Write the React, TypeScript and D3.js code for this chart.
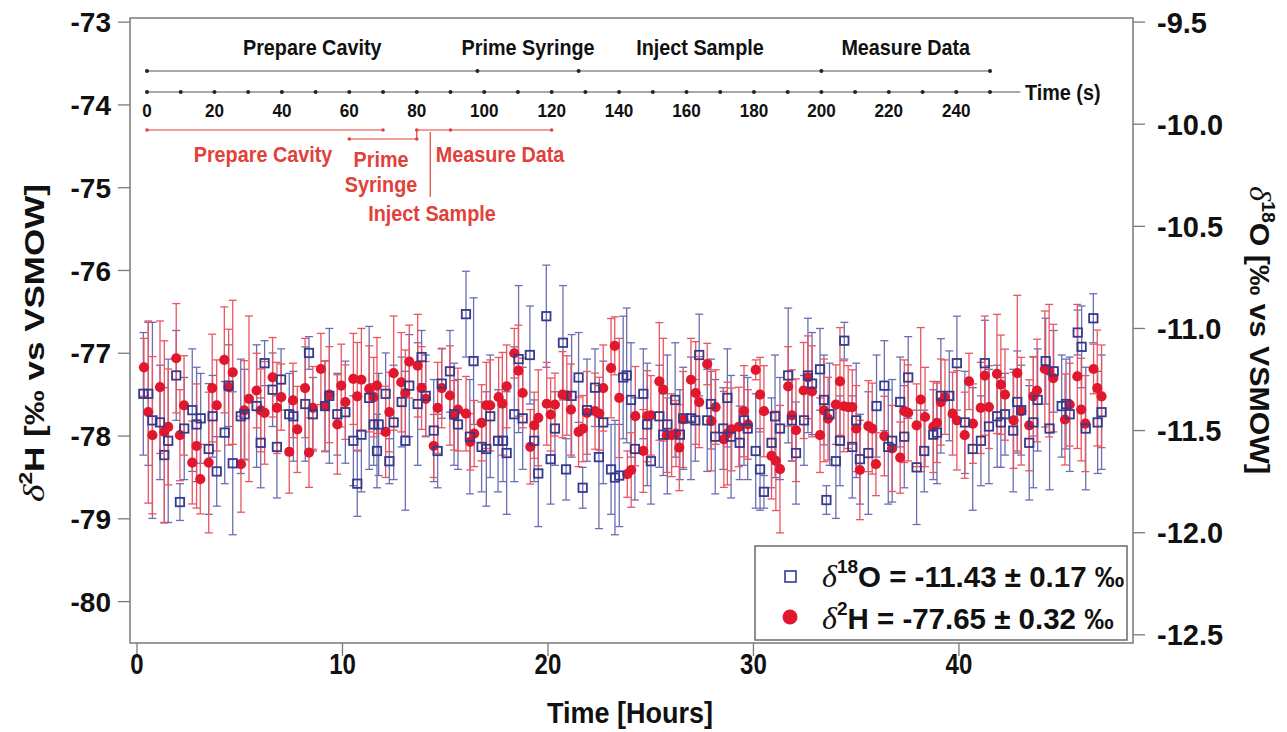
import React from 'react';
import * as d3 from 'd3';

// ---------- data: δ2H (left axis), red circles ----------
const hoursH = [0.34,0.55,0.75,1.12,1.33,1.52,1.91,2.09,2.29,2.69,2.90,3.08,3.49,3.66,3.88,4.25,4.46,4.66,5.06,5.22,5.45,5.82,6.02,6.21,6.60,6.81,7.02,7.41,7.59,7.80,8.18,8.37,8.56,8.95,9.15,9.36,9.75,9.94,10.14,10.53,10.72,10.92,11.30,11.52,11.68,
12.10,12.28,12.49,12.86,13.06,13.25,13.66,13.85,14.05,14.44,14.63,14.83,15.23,15.43,15.62,16.01,16.22,16.41,16.77,17.00,17.19,17.60,17.78,17.99,18.36,18.56,18.77,19.14,19.33,19.53,19.94,20.13,20.34,20.71,20.92,21.12,21.49,21.70,21.90,22.29,22.50,22.69,23.07,23.25,23.47,
23.86,24.05,24.25,24.64,24.83,25.01,25.42,25.61,25.78,26.02,26.23,26.39,26.58,26.96,27.19,27.36,27.75,27.95,28.16,28.56,28.73,28.94,29.29,29.54,29.73,30.11,30.32,30.51,30.88,31.09,31.29,31.69,31.87,32.07,32.44,32.65,32.85,33.24,33.43,33.63,34.01,34.21,34.40,34.61,34.81,35.00,35.18,35.59,
35.78,35.96,36.37,36.75,37.14,37.34,37.53,37.94,38.14,38.35,38.75,38.93,39.12,39.32,39.69,39.90,40.28,40.49,40.68,41.06,41.26,41.46,41.85,42.04,42.24,42.66,42.84,43.03,43.42,43.62,43.80,44.18,44.39,44.59,45.16,45.39,45.76,45.95,46.15,46.55,46.73,46.94];
const dH = [-77.17,-77.71,-77.99,-77.41,-77.95,-77.89,-77.06,-77.99,-77.63,-78.32,-78.12,-78.52,-78.32,-77.42,-77.63,-77.08,-77.41,-77.23,-78.34,-77.69,-77.55,-77.45,-77.69,-77.72,-77.29,-77.66,-77.53,-78.19,-77.57,-77.92,-77.42,-78.20,-77.66,-77.19,-77.64,-77.50,-77.86,-77.39,-77.59,-77.31,-77.52,-77.32,-77.43,-77.53,-77.39,
-77.95,-77.71,-77.24,-77.35,-77.48,-77.10,-77.15,-77.42,-77.55,-78.12,-77.66,-77.42,-77.51,-77.75,-77.68,-77.73,-78.07,-77.97,-77.84,-77.63,-77.63,-77.53,-77.61,-77.40,-77.00,-77.21,-77.48,-78.13,-77.87,-77.78,-77.61,-77.74,-77.62,-77.50,-77.51,-77.68,-77.95,-77.91,-77.72,-77.70,-77.73,-77.42,-77.18,-76.91,-77.54,
-78.46,-78.41,-77.76,-78.18,-77.76,-77.75,-77.34,-77.44,-77.99,-77.99,-77.97,-78.14,-77.80,-77.32,-77.48,-77.59,-77.13,-77.82,-77.65,-78.04,-77.97,-77.92,-77.89,-77.70,-77.86,-77.20,-77.50,-77.70,-78.24,-78.30,-78.40,-77.40,-77.75,-77.93,-77.45,-77.29,-77.46,-77.99,-77.69,-77.79,-77.62,-77.34,-77.64,-77.65,-77.65,-77.91,-78.41,-77.88,
-77.91,-78.34,-78.00,-78.15,-78.26,-77.70,-77.72,-77.87,-77.56,-77.77,-77.89,-77.84,-77.59,-77.53,-77.73,-77.81,-77.99,-77.34,-77.85,-77.66,-77.27,-77.65,-77.25,-77.38,-77.50,-77.81,-77.24,-77.70,-77.87,-77.52,-77.45,-77.19,-77.21,-77.30,-77.80,-77.62,-77.28,-77.68,-77.85,-77.19,-77.42,-77.52];
const dHErr = [0.35,1.10,0.95,0.80,1.10,0.70,0.66,0.55,0.60,0.50,0.75,0.42,0.85,0.65,0.55,0.64,0.70,0.87,0.58,0.60,1.00,0.45,0.50,0.62,0.48,0.55,0.40,0.50,0.45,0.52,0.60,0.42,0.50,0.43,0.55,0.58,0.60,0.50,0.45,0.55,0.65,0.62,0.52,0.48,0.58,
0.55,0.48,0.69,0.60,0.52,0.44,0.62,0.50,0.45,0.38,0.55,0.48,0.60,0.42,0.50,0.45,0.34,0.40,0.46,0.52,0.55,0.48,0.62,0.50,0.30,0.55,0.42,0.45,0.40,0.58,0.50,0.44,0.38,0.52,0.48,0.55,0.42,0.40,0.50,0.46,0.44,0.52,0.60,0.35,0.72,
0.28,0.45,0.60,0.50,0.55,0.48,0.71,0.62,0.45,0.50,0.40,0.52,0.58,0.50,0.62,0.55,0.25,0.60,0.45,0.58,0.62,0.50,0.48,0.55,0.42,0.12,0.45,0.55,0.52,0.60,0.77,0.48,0.55,0.62,0.58,0.50,0.55,0.45,0.62,0.50,0.48,0.65,0.55,0.50,0.45,0.52,0.60,0.55,
0.55,0.38,0.48,0.52,0.43,0.62,0.58,0.50,0.87,0.60,0.55,0.48,0.52,0.45,0.50,0.60,0.52,0.34,0.48,0.55,0.72,0.50,0.72,0.60,0.55,0.58,0.94,0.65,0.55,0.48,0.62,0.70,0.80,0.65,0.55,0.50,0.87,0.62,0.58,0.30,0.70,0.62];

// ---------- data: δ18O (right axis), blue squares ----------
const hoursO = [0.31,0.55,0.75,1.12,1.33,1.52,1.91,2.09,2.30,2.69,2.90,3.10,3.49,3.68,3.88,4.27,4.46,4.66,5.05,5.24,5.82,6.02,6.21,6.60,6.81,7.01,7.41,7.61,8.19,8.37,8.56,9.15,9.36,9.75,10.14,10.53,10.72,10.92,11.30,11.52,11.68,
11.76,12.10,12.28,12.49,12.88,13.06,13.25,13.66,13.85,14.05,14.44,14.63,14.83,15.23,15.43,15.62,16.01,16.20,16.38,16.77,17.00,17.19,17.57,17.81,17.99,18.36,18.57,18.77,19.12,19.33,19.53,19.92,20.13,20.34,20.73,20.88,21.15,21.49,21.69,21.90,22.29,22.48,22.69,23.07,23.26,23.47,23.66,
23.83,24.04,24.23,24.64,24.83,25.01,25.42,25.61,25.81,26.19,26.42,26.58,26.96,27.17,27.36,27.75,27.93,28.14,28.53,28.73,28.91,29.33,29.54,29.72,30.11,30.32,30.51,30.88,31.05,31.29,31.69,31.87,32.07,32.46,32.65,32.85,33.24,33.43,33.55,33.70,34.01,34.21,34.42,34.81,35.00,35.18,35.59,
35.99,36.37,36.56,36.75,37.14,37.34,37.53,37.94,38.31,38.75,38.93,39.12,39.53,39.90,40.29,40.67,41.07,41.26,41.46,41.86,42.04,42.24,42.64,42.84,43.03,43.42,43.62,43.83,44.22,44.41,44.61,45.00,45.21,45.39,45.78,45.97,46.17,46.54,46.75,46.94];
const dO = [-11.32,-11.32,-11.45,-11.46,-11.62,-11.55,-11.23,-11.85,-11.49,-11.40,-11.47,-11.44,-11.59,-11.43,-11.70,-11.51,-11.28,-11.66,-11.43,-11.42,-11.38,-11.56,-11.17,-11.30,-11.58,-11.25,-11.42,-11.43,-11.37,-11.12,-11.42,-11.38,-11.33,-11.42,-11.41,-11.55,-11.76,-11.52,-11.34,-11.47,-11.60,
-11.47,-11.32,-11.65,-11.46,-11.36,-11.55,-11.28,-11.37,-11.14,-11.33,-11.50,-11.60,-11.27,-11.21,-11.42,-11.47,-10.93,-11.53,-11.16,-11.58,-11.59,-11.43,-11.55,-11.55,-11.61,-11.42,-11.15,-11.44,-11.13,-11.55,-11.71,-10.94,-11.64,-11.49,-11.07,-11.69,-11.33,-11.24,-11.78,-11.40,-11.29,-11.63,-11.46,-11.69,-11.73,-11.72,-11.24,
-11.23,-11.35,-11.59,-11.32,-11.47,-11.65,-11.43,-11.52,-11.47,-11.35,-11.52,-11.44,-11.44,-11.45,-11.13,-11.45,-11.37,-11.53,-11.49,-11.34,-11.53,-11.56,-11.45,-11.49,-11.60,-11.69,-11.80,-11.56,-11.43,-11.49,-11.23,-11.45,-11.61,-11.45,-11.23,-11.27,-11.20,-11.35,-11.84,-11.42,-11.65,-11.55,-11.06,-11.58,-11.45,-11.64,-11.61,
-11.38,-11.28,-11.58,-11.55,-11.36,-11.53,-11.24,-11.68,-11.60,-11.52,-11.51,-11.33,-11.33,-11.17,-11.46,-11.59,-11.55,-11.17,-11.48,-11.43,-11.46,-11.42,-11.50,-11.36,-11.40,-11.56,-11.46,-11.35,-11.16,-11.49,-11.21,-11.38,-11.37,-11.42,-11.02,-11.09,-11.49,-10.95,-11.46,-11.41];
const dOErr = [0.30,0.35,0.48,0.28,0.33,0.40,0.22,0.09,0.25,0.30,0.28,0.22,0.32,0.20,0.17,0.25,0.20,0.35,0.28,0.22,0.30,0.22,0.11,0.18,0.25,0.15,0.20,0.22,0.28,0.08,0.18,0.22,0.33,0.20,0.25,0.22,0.16,0.28,0.35,0.20,0.18,
0.25,0.20,0.11,0.28,0.22,0.34,0.25,0.30,0.13,0.20,0.25,0.18,0.17,0.20,0.25,0.22,0.21,0.28,0.31,0.22,0.28,0.30,0.25,0.20,0.30,0.33,0.36,0.25,0.24,0.20,0.26,0.25,0.22,0.18,0.28,0.15,0.30,0.22,0.10,0.25,0.19,0.35,0.30,0.22,0.28,0.25,0.30,
0.33,0.28,0.25,0.22,0.30,0.21,0.25,0.20,0.34,0.28,0.22,0.25,0.30,0.20,0.20,0.25,0.22,0.28,0.20,0.24,0.30,0.18,0.22,0.25,0.28,0.20,0.08,0.22,0.30,0.25,0.33,0.20,0.25,0.22,0.28,0.25,0.20,0.22,0.07,0.25,0.28,0.22,0.09,0.25,0.28,0.22,0.30,
0.25,0.22,0.28,0.30,0.22,0.25,0.20,0.28,0.20,0.22,0.25,0.28,0.22,0.23,0.25,0.30,0.22,0.21,0.28,0.25,0.22,0.20,0.30,0.25,0.22,0.28,0.32,0.25,0.21,0.30,0.20,0.25,0.22,0.28,0.11,0.20,0.30,0.12,0.25,0.28];

// ---------- axes ----------
const leftTicks = [-73, -74, -75, -76, -77, -78, -79, -80];
const rightTicks = [-9.5, -10.0, -10.5, -11.0, -11.5, -12.0, -12.5];
const xTicks = [0, 10, 20, 30, 40];

// ---------- inset timeline (seconds) ----------
const cycleBounds = [0, 98, 128, 200, 250];
const cycleNames = ['Prepare Cavity', 'Prime Syringe', 'Inject Sample', 'Measure Data'];
const secDots = [0,10,20,30,40,50,60,70,80,90,100,110,120,130,140,150,160,170,180,190,200,210,220,230,240,250];
const secLabels = [0,20,40,60,80,100,120,140,160,180,200,220,240];
const redRow1 = [[0, 70], [80, 120]];
const redRow1Dots = [0, 70, 80, 90, 120];
const redRow2 = [60, 80];
const injectSec = 84;

const RED = '#e1182d';
const RED_BAR = '#ea5560';
const BLUE = '#363a8c';
const BLUE_BAR = '#6b6fb2';
const TXTRED = '#e2413a';
const SANS = "'Liberation Sans',Arial,sans-serif";
const SERIF = "'Liberation Serif','Times New Roman',serif";

// condensed-looking text: taller glyphs squeezed horizontally
function CText({ x, y, size, sx = 0.86, anchor = 'middle', fill = '#111', children }: any) {
  return (
    <text transform={`translate(${x},${y}) scale(${sx},1)`} textAnchor={anchor} fontFamily={SANS}
      fontWeight="bold" fontSize={size} fill={fill}>{children}</text>
  );
}

export default function App() {
  const L = 130, R = 1133, T = 18, B = 643;
  const x = d3.scaleLinear().domain([-0.34, 48.47]).range([L, R]);
  const yL = d3.scaleLinear().domain([-72.95, -80.5]).range([T, B]);
  const yR = d3.scaleLinear().domain([-9.48, -12.54]).range([T, B]);
  const s = d3.scaleLinear().domain([0, 250]).range([147, 990]);

  const cap = 4;
  const red = hoursH.map((h, i) => ({ h, v: dH[i], e: dHErr[i] }));
  const blue = hoursO.map((h, i) => ({ h, v: dO[i], e: dOErr[i] }));
  const fmtR = (t: number) => d3.format('.1f')(t).replace('\u2212', '-');

  const timeline1Y = 71, timeline2Y = 92, redY1 = 130, redY2 = 139;

  return (
    <svg width={1287} height={732} style={{ position: 'absolute', left: 0, top: 0, background: '#fff' }}>
      <rect x={0} y={0} width={1287} height={732} fill="#fff" />
      {/* error bars */}
      <g stroke={BLUE_BAR} strokeWidth={1.3} fill="none">
        {blue.map((d, i) => {
          const cx = x(d.h), y1 = yR(d.v + d.e), y2 = yR(d.v - d.e);
          return (
            <g key={i}>
              <line x1={cx} x2={cx} y1={y1} y2={y2} />
              <line x1={cx - cap} x2={cx + cap} y1={y1} y2={y1} />
              <line x1={cx - cap} x2={cx + cap} y1={y2} y2={y2} />
            </g>
          );
        })}
      </g>
      <g stroke={RED_BAR} strokeWidth={1.3} fill="none">
        {red.map((d, i) => {
          const cx = x(d.h), y1 = yL(d.v + d.e), y2 = yL(d.v - d.e);
          return (
            <g key={i}>
              <line x1={cx} x2={cx} y1={y1} y2={y2} />
              <line x1={cx - cap} x2={cx + cap} y1={y1} y2={y1} />
              <line x1={cx - cap} x2={cx + cap} y1={y2} y2={y2} />
            </g>
          );
        })}
      </g>
      <g fill={RED}>
        {red.map((d, i) => <circle key={i} cx={x(d.h)} cy={yL(d.v)} r={5.1} />)}
      </g>
      <g fill="none" stroke={BLUE} strokeWidth={1.8}>
        {blue.map((d, i) => <rect key={i} x={x(d.h) - 4.2} y={yR(d.v) - 4.2} width={8.4} height={8.4} />)}
      </g>

      {/* frame */}
      <rect x={L} y={T} width={R - L} height={B - T} fill="none" stroke="#7a7a7a" strokeWidth={1.5} />
      <g stroke="#7a7a7a" strokeWidth={1.3}>
        {leftTicks.map(t => <line key={t} x1={L - 12} x2={L} y1={yL(t)} y2={yL(t)} />)}
        {rightTicks.map(t => <line key={t} x1={R} x2={R + 12} y1={yR(t)} y2={yR(t)} />)}
        {xTicks.map(t => <line key={t} x1={x(t)} x2={x(t)} y1={B} y2={B + 13} />)}
      </g>
      <g fontFamily={SANS} fontWeight="bold" fill="#111">
        {leftTicks.map(t => (
          <text key={t} x={111} y={yL(t)} dy="0.36em" textAnchor="end" fontSize={28}>{String(t)}</text>
        ))}
        {rightTicks.map(t => (
          <text key={t} x={1157} y={yR(t)} dy="0.36em" textAnchor="start" fontSize={29}>{fmtR(t)}</text>
        ))}
      </g>
      {xTicks.map(t => (
        <CText key={t} x={x(t)} y={674} size={30} sx={0.8}>{t}</CText>
      ))}
      <CText x={630} y={723} size={30} sx={0.9}>Time [Hours]</CText>

      {/* left title */}
      <text transform="translate(44,343) rotate(-90)" textAnchor="middle" fontFamily={SANS} fontWeight="bold"
        fontSize={28} fill="#111" textLength={318} lengthAdjust="spacingAndGlyphs">
        <tspan fontFamily={SERIF} fontStyle="italic" fontWeight="normal" fontSize={30}>δ</tspan>
        <tspan fontSize={18} dy={-12}>2</tspan>
        <tspan dy={12}>H [‰ vs VSMOW]</tspan>
      </text>
      {/* right title */}
      <text transform="translate(1250,330) rotate(90)" textAnchor="middle" fontFamily={SANS} fontWeight="bold"
        fontSize={28} fill="#111" textLength={288} lengthAdjust="spacingAndGlyphs">
        <tspan fontFamily={SERIF} fontStyle="italic" fontWeight="normal" fontSize={30}>δ</tspan>
        <tspan fontSize={18} dy={-12}>18</tspan>
        <tspan dy={12}>O [‰ vs VSMOW]</tspan>
      </text>

      {/* legend */}
      <rect x={755} y={546} width={372} height={94} fill="#fff" stroke="#6a6a6a" strokeWidth={1.5} />
      <rect x={785} y={571} width={11} height={11} fill="none" stroke={BLUE} strokeWidth={1.6} />
      <circle cx={790} cy={617} r={7.5} fill={RED} />
      <text x={822} y={587} fontFamily={SANS} fontWeight="bold" fontSize={29.5} fill="#111">
        <tspan fontFamily={SERIF} fontStyle="italic" fontWeight="normal" fontSize={32}>δ</tspan>
        <tspan fontSize={19} dy={-14}>18</tspan>
        <tspan dy={14}>O = -11.43 ± 0.17 ‰</tspan>
      </text>
      <text x={822} y={629} fontFamily={SANS} fontWeight="bold" fontSize={29.5} fill="#111">
        <tspan fontFamily={SERIF} fontStyle="italic" fontWeight="normal" fontSize={32}>δ</tspan>
        <tspan fontSize={19} dy={-14}>2</tspan>
        <tspan dy={14}>H = -77.65 ± 0.32 ‰</tspan>
      </text>

      {/* inset timeline */}
      <g stroke="#555" strokeWidth={1.2}>
        <line x1={s(0)} x2={s(250)} y1={timeline1Y} y2={timeline1Y} />
        <line x1={s(0)} x2={s(259)} y1={timeline2Y} y2={timeline2Y} />
      </g>
      <g fill="#222">
        {cycleBounds.map(b => <circle key={b} cx={s(b)} cy={timeline1Y} r={2} />)}
        {secDots.map(b => <circle key={b} cx={s(b)} cy={timeline2Y} r={2} />)}
      </g>
      {cycleNames.map((n, i) => (
        <CText key={n} x={s((cycleBounds[i] + cycleBounds[i + 1]) / 2)} y={55} size={22} sx={0.9}>{n}</CText>
      ))}
      <CText x={1025} y={100} size={22} sx={0.9} anchor="start">Time (s)</CText>
      {secLabels.map(t => <CText key={t} x={s(t)} y={117} size={19} sx={0.9}>{t}</CText>)}
      <g stroke={TXTRED} strokeWidth={1.2}>
        {redRow1.map(([a, b]) => <line key={a} x1={s(a)} x2={s(b)} y1={redY1} y2={redY1} />)}
        <line x1={s(redRow2[0])} x2={s(redRow2[1])} y1={redY2} y2={redY2} />
        <line x1={s(redRow2[1])} x2={s(redRow2[1])} y1={redY1} y2={redY2} />
        <line x1={s(injectSec)} x2={s(injectSec)} y1={redY1 + 2} y2={197} />
      </g>
      <g fill={TXTRED}>
        {redRow1Dots.map(d => <circle key={d} cx={s(d)} cy={redY1} r={1.8} />)}
        {redRow2.map(d => <circle key={d} cx={s(d)} cy={redY2} r={1.8} />)}
      </g>
      <CText x={263} y={162} size={22} sx={0.9} fill={TXTRED}>Prepare Cavity</CText>
      <CText x={381} y={167} size={22} sx={0.9} fill={TXTRED}>Prime</CText>
      <CText x={381} y={192} size={22} sx={0.9} fill={TXTRED}>Syringe</CText>
      <CText x={500} y={162} size={22} sx={0.9} fill={TXTRED}>Measure Data</CText>
      <CText x={432} y={221} size={22} sx={0.9} fill={TXTRED}>Inject Sample</CText>
    </svg>
  );
}
